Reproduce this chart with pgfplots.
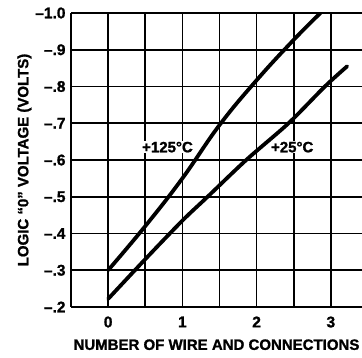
\documentclass[border=0pt]{standalone}
\usepackage{pgfplots}
\pgfplotsset{compat=1.18}
\usepackage{fontspec}
\setmainfont{Liberation Sans}[BoldFeatures={FakeBold=1.2}]

\begin{document}
\begin{tikzpicture}
\begin{axis}[
	name=ax,
	scale only axis,
	width=291pt, height=294pt,
	xmin=-0.5, xmax=3.42,
	ymin=-1.0, ymax=-0.2,
	y dir=reverse,
	axis lines*=left,
	axis line style={line width=2.6pt, -},
	xtick={0,1,2,3},
	xticklabels={0,1,2,3},
	minor xtick={-0.5,0.5,1.5,2.5},
	ytick={-1.0,-0.9,-0.8,-0.7,-0.6,-0.5,-0.4,-0.3,-0.2},
	yticklabels={--1.0,--.9,--.8,--.7,--.6,--.5,--.4,--.3,--.2},
	major tick length=0pt, minor tick length=0pt,
	grid=both,
	major grid style={black, line width=1.7pt},
	minor grid style={black, line width=1.7pt},
	tick label style={font=\fontsize{15.5}{17}\selectfont\bfseries},
	xticklabel style={yshift=-6pt},
	yticklabel style={xshift=-2pt},
	xlabel={NUMBER OF WIRE AND CONNECTIONS},
	ylabel={LOGIC ``0'' VOLTAGE (VOLTS)},
	xlabel style={font=\fontsize{15}{17}\selectfont\bfseries, yshift=-5pt},
	ylabel style={font=\fontsize{15}{17}\selectfont\bfseries, yshift=-3pt},
	clip=true,
]
% +125 C
\addplot[black, line width=3.8pt, smooth, tension=0.7] coordinates {
	(0,-0.30) (0.5,-0.42) (1.0,-0.55) (1.5,-0.695)
	(2.0,-0.817) (2.5,-0.927) (2.86,-1.0)
};
% +25 C
\addplot[black, line width=3.8pt, smooth, tension=0.5, line cap=round] coordinates {
	(0,-0.222) (0.5,-0.33) (1.0,-0.435) (1.34,-0.50) (1.86,-0.60)
	(2.43,-0.70) (2.92,-0.80) (3.22,-0.855)
};
\node[fill=white, inner sep=0.5pt, font=\fontsize{15}{17}\selectfont\bfseries] at (axis cs:0.80,-0.635) {+125°C};
\node[fill=white, inner sep=0.5pt, font=\fontsize{15}{17}\selectfont\bfseries] at (axis cs:2.48,-0.635) {+25°C};
\coordinate (bl) at (axis description cs:0,0);
\coordinate (tr) at (axis description cs:1,1);
\end{axis}
\pgfresetboundingbox
\path[use as bounding box] ([shift={(-71pt,-50pt)}]bl) rectangle ([shift={(0pt,13pt)}]tr);
\end{tikzpicture}
\end{document}
